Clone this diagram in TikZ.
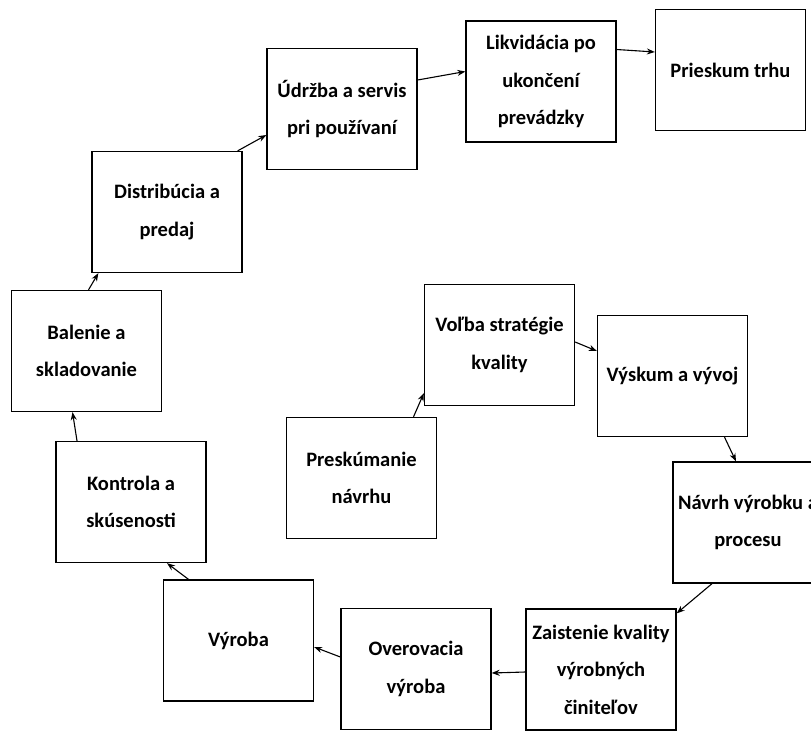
\documentclass[tikz,border=0pt]{standalone}
\usepackage{fontspec}
\setmainfont{Carlito}
\usetikzlibrary{arrows.meta, positioning}

\begin{document}
\begin{tikzpicture}[
        x=1pt, y=-1pt,
        block/.style={rectangle, draw, line width=1.3pt, minimum width=150pt, minimum height=121pt, align=center, inner sep=0pt, font=\fontsize{20.5}{37.5}\selectfont\bfseries},
        arrow/.style={-{Stealth[length=8pt, width=6pt]}, line width=1.1pt}
    ]
        \clip (0,0) rectangle (811,731);

        % outer loop
        \node[block] (udrzba) at (342,109) {Údržba a servis\\pri používaní};
        \node[block] (likvidacia) at (541,81.5) {Likvidácia po\\ukončení\\prevádzky};
        \node[block] (prieskum) at (730.5,70) {Prieskum trhu};
        \node[block] (distribucia) at (167,212) {Distribúcia a\\predaj};
        \node[block] (balenie) at (86.5,351) {Balenie a\\skladovanie};
        \node[block] (kontrola) at (131,502) {Kontrola a\\skúsenosti};
        \node[block] (vyroba) at (238.5,640.5) {Výroba};
        \node[block] (overovacia) at (416,669) {Overovacia\\výroba};
        \node[block] (zaistenie) at (601,669.5) {Zaistenie kvality\\výrobných\\činiteľov};

        % inner part
        \node[block] (preskumanie) at (361.5,478) {Preskúmanie\\návrhu};
        \node[block] (volba) at (499.5,345) {Voľba stratégie\\kvality};
        \node[block] (vyskum) at (672.5,376) {Výskum a vývoj};
        \node[block] (navrh) at (748,522.5) {Návrh výrobku a\\procesu};

        \draw[arrow] ([xshift=2pt]balenie.north) -- ([xshift=7pt]distribucia.south west);
        \draw[arrow] ([xshift=-5pt]distribucia.north east) -- ([yshift=-26pt]udrzba.west);
        \draw[arrow] ([yshift=29pt]udrzba.east) -- ([yshift=10pt]likvidacia.west);
        \draw[arrow] ([yshift=32pt]likvidacia.east) -- ([yshift=18pt]prieskum.west);
        \draw[arrow] ([xshift=-54pt]kontrola.north) -- ([xshift=-14pt]balenie.south);
        \draw[arrow] ([xshift=-50pt]vyroba.north) -- ([xshift=36pt]kontrola.south);
        \draw[arrow] ([yshift=12pt]overovacia.west) -- ([yshift=-6.5pt]vyroba.east);
        \draw[arrow] ([yshift=-2.5pt]zaistenie.west) -- ([yshift=-4pt]overovacia.east);
        \draw[arrow] ([xshift=-36pt]navrh.south) -- ([yshift=-5pt]zaistenie.north east);
        \draw[arrow] ([xshift=52pt]vyskum.south) -- ([xshift=-12pt]navrh.north);
        \draw[arrow] ([yshift=3pt]volba.east) -- ([yshift=25pt]vyskum.west);
        \draw[arrow] ([xshift=52pt]preskumanie.north) -- ([yshift=13pt]volba.south west);
    \end{tikzpicture}
\end{document}
